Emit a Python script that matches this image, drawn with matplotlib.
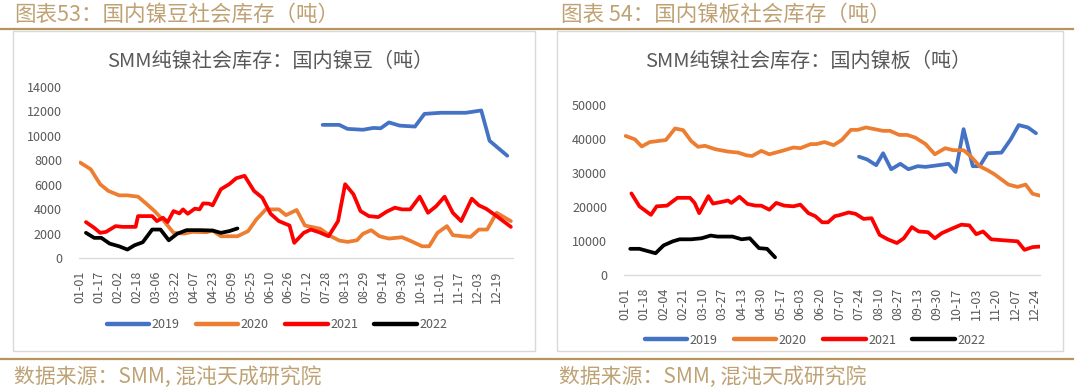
import matplotlib
matplotlib.use("Agg")
import matplotlib.pyplot as plt
import matplotlib.dates as mdates
from matplotlib.patches import Rectangle
from matplotlib.lines import Line2D
import pandas as pd

plt.rcParams['font.family'] = ['Noto Sans CJK SC', 'DejaVu Sans']

W, H = 1080, 390
GOLD_TXT = "#BFA274"
GOLD_LINE = "#B5955C"
GRAY = "#595959"

years = ["2019", "2020", "2021", "2022"]
colors = ["#4472C4", "#ED7D31", "#FF0000", "#000000"]

# ---- 图表53: 国内镍豆 ----
bean_ticks = ["01-01", "01-17", "02-02", "02-18", "03-06", "03-22", "04-07", "04-23",
              "05-09", "05-25", "06-10", "06-26", "07-12", "07-28", "08-13", "08-29",
              "09-14", "09-30", "10-16", "11-01", "11-17", "12-03", "12-19"]

bean_2019_d = ["07-25", "08-08", "08-15", "08-28", "09-06", "09-12", "09-19", "09-28",
               "10-11", "10-19", "11-02", "11-23", "12-06", "12-13", "12-28"]
bean_2019 = [10900, 10900, 10570, 10500, 10650, 10620, 11100, 10840,
             10760, 11800, 11890, 11890, 12080, 9600, 8370]

bean_2020_d = ["01-01", "01-10", "01-18", "01-25", "02-03", "02-10", "02-19", "02-25",
               "03-05", "03-13", "03-21", "03-30", "04-06", "04-18", "04-23", "04-30",
               "05-14", "05-23", "05-30", "06-07", "06-18", "06-24", "07-03", "07-10",
               "07-23", "08-01", "08-08", "08-15", "08-23", "08-28", "09-04", "09-11",
               "09-19", "09-30", "10-08", "10-17", "10-23", "10-30", "11-07", "11-12",
               "11-20", "11-27", "12-04", "12-11", "12-19", "12-31"]
bean_2020 = [7820, 7270, 6040, 5490, 5130, 5130, 5020, 4530,
             3840, 3020, 2060, 2000, 2140, 2110, 2250, 1780,
             1780, 2200, 3160, 3980, 3980, 3510, 3930, 2660,
             2390, 1780, 1430, 1320, 1450, 1980, 2280, 1780,
             1590, 1700, 1370, 960, 960, 2060, 2610, 1870,
             1780, 1730, 2330, 2330, 3700, 3020]

bean_2021_d = ["01-06", "01-13", "01-18", "01-23", "01-31", "02-06", "02-17", "02-19",
               "03-03", "03-07", "03-12", "03-16", "03-21", "03-26", "03-29", "04-02",
               "04-08", "04-12", "04-15", "04-20", "04-23", "04-30", "05-07", "05-13",
               "05-20", "05-28", "06-04", "06-11", "06-18", "06-27", "07-01", "07-09",
               "07-15", "07-22", "07-30", "08-07", "08-13", "08-20", "08-26", "09-02",
               "09-10", "09-17", "09-24", "09-30", "10-07", "10-15", "10-22", "10-29",
               "11-05", "11-12", "11-19", "11-28", "12-04", "12-10", "12-19", "12-31"]
bean_2021 = [2940, 2470, 2060, 2140, 2610, 2550, 2550, 3430,
             3430, 3020, 3300, 2940, 3840, 3650, 3980, 3620,
             4040, 3980, 4470, 4450, 4310, 5630, 6040, 6530,
             6730, 5490, 4940, 3620, 3020, 2660, 1240, 2060,
             2330, 2110, 1780, 3020, 6040, 5220, 3840, 3430,
             3350, 3790, 4120, 3980, 3980, 5020, 3700, 4250,
             5020, 3700, 3020, 4860, 4310, 4040, 3430, 2550]

bean_2022_d = ["01-06", "01-13", "01-19", "01-26", "02-03", "02-10", "02-16", "02-23",
               "03-03", "03-10", "03-17", "03-24", "04-01", "04-12", "04-23", "04-30",
               "05-07", "05-14"]
bean_2022 = [2060, 1650, 1650, 1180, 960, 690, 1040, 1290,
             2330, 2330, 1450, 1980, 2280, 2280, 2250, 2060,
             2200, 2420]

# ---- 图表54: 国内镍板 ----
plate_ticks = ["01-01", "01-18", "02-04", "02-21", "03-10", "03-27", "04-13", "04-30",
               "05-17", "06-03", "06-20", "07-07", "07-24", "08-10", "08-27", "09-13",
               "09-30", "10-17", "11-03", "11-20", "12-07", "12-24"]

plate_2019_d = ["07-24", "07-31", "08-08", "08-14", "08-21", "08-29", "09-05", "09-13",
                "09-20", "10-10", "10-16", "10-23", "10-31", "11-06", "11-13", "11-25",
                "12-03", "12-10", "12-18", "12-25"]
plate_2019 = [34800, 34000, 32300, 35800, 31100, 32700, 31100, 32000,
              31800, 32700, 30300, 42900, 32000, 32000, 35800, 36000,
              39900, 44100, 43400, 41700]

plate_2020_d = ["01-02", "01-10", "01-16", "01-23", "02-06", "02-14", "02-21", "02-28",
                "03-06", "03-12", "03-21", "04-01", "04-10", "04-17", "04-22", "04-30",
                "05-07", "05-18", "05-28", "06-03", "06-12", "06-17", "06-24", "07-02",
                "07-09", "07-17", "07-23", "07-30", "08-14", "08-20", "08-28", "09-04",
                "09-11", "09-20", "09-28", "10-07", "10-14", "10-23", "10-29", "11-06",
                "11-13", "11-19", "11-25", "12-01", "12-09", "12-16", "12-22", "12-30"]
plate_2020 = [40900, 39900, 37800, 39100, 39700, 43100, 42600, 39400,
              37700, 38000, 37000, 36300, 36000, 35200, 35000, 36500,
              35500, 36500, 37500, 37300, 38500, 38500, 39100, 38200,
              39700, 42700, 42700, 43400, 42400, 42400, 41200, 41200,
              40400, 38500, 35500, 37300, 36700, 36700, 35000, 32000,
              30800, 29600, 28100, 26600, 25900, 26600, 23900, 23200]

plate_2021_d = ["01-07", "01-14", "01-24", "01-29", "02-07", "02-16", "02-27", "03-03",
                "03-07", "03-15", "03-19", "03-25", "04-01", "04-04", "04-11", "04-18",
                "04-25", "04-30", "05-07", "05-13", "05-20", "05-28", "06-03", "06-10",
                "06-16", "06-22", "06-27", "07-03", "07-07", "07-15", "07-21", "07-28",
                "08-04", "08-11", "08-18", "08-26", "09-01", "09-08", "09-14", "09-22",
                "09-28", "10-04", "10-12", "10-21", "10-28", "11-03", "11-09", "11-16",
                "11-27", "12-09", "12-15", "12-22", "12-30"]
plate_2021 = [24000, 20200, 17700, 20200, 20400, 22700, 22700, 21200,
              18200, 23200, 21000, 21400, 21900, 21200, 23000, 20900,
              20400, 20400, 19200, 21200, 20400, 20200, 20700, 18200,
              17300, 15500, 15500, 17300, 17600, 18400, 18000, 16500,
              16700, 11800, 10500, 9400, 10800, 14100, 12800, 12600,
              10800, 12300, 13500, 14800, 14600, 12000, 12800, 10500,
              10200, 9900, 7400, 8200, 8400]

plate_2022_d = ["01-06", "01-14", "01-28", "02-04", "02-12", "02-18", "02-28", "03-09",
                "03-17", "03-23", "04-05", "04-13", "04-20", "04-28", "05-05", "05-12"]
plate_2022 = [7700, 7700, 6400, 8700, 9900, 10500, 10500, 10800,
              11600, 11300, 11300, 10500, 10800, 7900, 7700, 5200]


def to_dates(md):
    return pd.to_datetime(["2021-" + s for s in md])


def fig_rect(x0, y0, x1, y1):
    # pixel box (top-left origin) -> figure fraction [l, b, w, h]
    return [x0 / W, 1 - y1 / H, (x1 - x0) / W, (y1 - y0) / H]


def draw_panel(rect, series, ticks, ymax, ystep, xpad, title, title_xy, legend_xy):
    ax = fig.add_axes(rect)
    for (d, v), yr, c in zip(series, years, colors):
        ax.plot(to_dates(d), v, color=c, lw=2.7, solid_capstyle="round",
                solid_joinstyle="round", label=yr)
    base = mdates.date2num(pd.Timestamp("2021-01-01"))
    ax.set_xlim(base + xpad[0], base + xpad[1])
    ax.set_ylim(0, ymax)
    ax.set_yticks(range(0, ymax + 1, ystep))
    ax.set_xticks(to_dates(ticks))
    ax.set_xticklabels(ticks, rotation=90)
    ax.tick_params(length=0, labelsize=9, colors=GRAY)
    ax.tick_params(axis="y", pad=12)
    ax.tick_params(axis="x", pad=9)
    for s in ["top", "right", "left"]:
        ax.spines[s].set_visible(False)
    ax.spines["bottom"].set_color("#D9D9D9")
    ax.spines["bottom"].set_linewidth(0.9)
    ax.patch.set_alpha(0)
    fig.text(title_xy[0] / W, 1 - title_xy[1] / H, title, ha="center", va="center",
             fontsize=14.5, color=GRAY)
    handles = [Line2D([], [], color=c, lw=3.2, solid_capstyle="round") for c in colors]
    fig.legend(handles, years, loc="center", ncol=4, frameon=False,
               bbox_to_anchor=(legend_xy[0] / W, 1 - legend_xy[1] / H),
               fontsize=9, labelcolor=GRAY, handlelength=3.4, handletextpad=0.2,
               columnspacing=1.3)
    return ax


fig = plt.figure(figsize=(W / 100, H / 100), dpi=100)

# gold rules and light boxes
for y in (29, 358.5):
    fig.add_artist(Line2D([0, 1073 / W], [1 - y / H, 1 - y / H], color=GOLD_LINE,
                          lw=1.6, transform=fig.transFigure))
for x0, x1 in ((12.5, 535), (557, 1063)):
    l, b, w, h = fig_rect(x0, 30.5, x1, 350.5)
    fig.add_artist(Rectangle((l, b), w, h, transform=fig.transFigure, fill=False,
                             edgecolor="#D9D9D9", lw=1.0))

fig.text(14 / W, 1 - 14.5 / H, "图表53：国内镍豆社会库存（吨）", fontsize=15.5,
         color=GOLD_TXT, va="center", ha="left")
fig.text(561 / W, 1 - 14.5 / H, "图表 54：国内镍板社会库存（吨）", fontsize=15.5,
         color=GOLD_TXT, va="center", ha="left")
for x in (14, 559):
    fig.text(x / W, 1 - 377 / H, "数据来源：SMM, 混沌天成研究院", fontsize=15,
             color=GOLD_TXT, va="center", ha="left")

draw_panel(fig_rect(78.6, 87, 512.5, 258),
           [(bean_2019_d, bean_2019), (bean_2020_d, bean_2020),
            (bean_2021_d, bean_2021), (bean_2022_d, bean_2022)],
           bean_ticks, 14000, 2000, (-1.2, 365.4),
           "SMM纯镍社会库存：国内镍豆（吨）", (270, 61), (277, 325))

draw_panel(fig_rect(623.8, 105, 1040, 275),
           [(plate_2019_d, plate_2019), (plate_2020_d, plate_2020),
            (plate_2021_d, plate_2021), (plate_2022_d, plate_2022)],
           plate_ticks, 50000, 10000, (-0.6, 361.5),
           "SMM纯镍社会库存：国内镍板（吨）", (808, 61), (815, 340))

fig.savefig("out.png", dpi=100)
